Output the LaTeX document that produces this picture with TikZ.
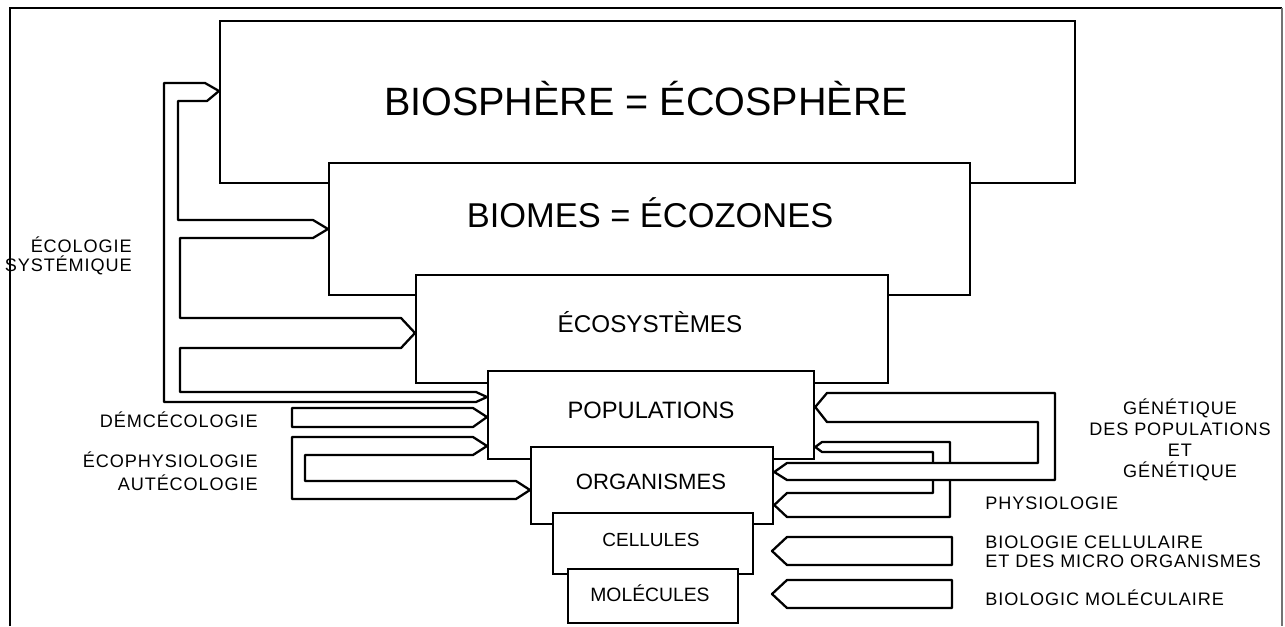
\documentclass[tikz,border=0pt]{standalone}
\usepackage{fontspec}
\setmainfont{Liberation Sans}
\newfontfamily\lblfont[LetterSpace=5]{Liberation Sans}

\begin{document}
\begin{tikzpicture}[x=0.02cm, y=-0.02cm,
    box/.style={draw, line width=1.3pt, fill=white, inner sep=0pt, anchor=north west},
    band/.style={draw, line width=1.3pt, fill=white, line join=round},
    lbl/.style={font=\lblfont\fontsize{10.3}{12}\selectfont, inner sep=0pt}]
    \useasboundingbox (0,0) rectangle (1285,626);
    \draw[line width=0.8pt] (10,626) -- (10,8) -- (1282,8);
    \draw[line width=0.6pt, black!55] (1282,8) -- (1282,626);

    \node[box, minimum width=17.10cm, minimum height=3.24cm] (bio) at (219,20) {};
    \node[box, minimum width=12.82cm, minimum height=2.64cm] (biome) at (328,162) {};
    \node[box, minimum width=9.44cm, minimum height=2.16cm] (eco) at (415,274) {};
    \node[box, minimum width=6.52cm, minimum height=1.76cm] (pop) at (487,370) {};
    \node[box, minimum width=4.84cm, minimum height=1.54cm] (org) at (530,446) {};
    \node[box, minimum width=4.00cm, minimum height=1.22cm] (cell) at (552,512) {};
    \node[box, minimum width=3.40cm, minimum height=1.08cm] (mol) at (567,568) {};

    \node[font=\fontsize{22.5}{27}\selectfont] (tbio) at (646,99) {BIOSPHÈRE = ÉCOSPHÈRE};
    \node[font=\fontsize{19.6}{24}\selectfont] (tbiome) at (650,213) {BIOMES = ÉCOZONES};
    \node[font=\fontsize{13.8}{16}\selectfont] (teco) at (650,322) {ÉCOSYSTÈMES};
    \node[font=\fontsize{13.5}{16}\selectfont] (tpop) at (651,410) {POPULATIONS};
    \node[font=\fontsize{12.6}{15}\selectfont] (torg) at (651,482) {ORGANISMES};
    \node[font=\fontsize{10.8}{13}\selectfont] (tcell) at (651,540) {CELLULES};
    \node[font=\fontsize{11}{13}\selectfont] (tmol) at (650,593) {MOLÉCULES};

    \draw[band] (164,83) -- (205,83) -- (bio.west |- 0,91) -- (207,101) -- (178,101)
      -- (178,220) -- (313,220) -- (biome.west |- 0,229) -- (313,238) -- (180,238)
      -- (180,318) -- (401,318) -- (eco.west |- 0,333) -- (401,348) -- (180,348)
      -- (180,392) -- (476,392) -- (pop.west |- 0,397) -- (476,402) -- (164,402) -- cycle;
    \draw[band] (292,408) -- (473,408) -- (pop.west |- 0,417) -- (473,427) -- (292,427) -- cycle;
    \draw[band] (292,437) -- (473,437) -- (pop.west |- 0,446) -- (473,455) -- (305,455)
      -- (305,481) -- (516,481) -- (org.west |- 0,490) -- (516,499) -- (292,499) -- cycle;

    \draw[band] (pop.east |- 0,447) -- (822,442) -- (950,442) -- (950,517) -- (787,517)
      -- (org.east |- 0,505) -- (787,493) -- (933,493) -- (933,452) -- (822,452) -- cycle;
    \draw[band] (pop.east |- 0,407) -- (827,393) -- (1055,393) -- (1055,480) -- (787,480)
      -- (org.east |- 0,472) -- (787,463) -- (1038,463) -- (1038,422) -- (827,422) -- cycle;
    \draw[band] (787,537) -- (952,537) -- (952,565) -- (787,565) -- (772,551) -- cycle;
    \draw[band] (787,580) -- (952,580) -- (952,608) -- (787,608) -- (772,594) -- cycle;

    \node[lbl, anchor=east, align=right] (lsys) at (132,256) {ÉCOLOGIE\\[-1.5pt]SYSTÉMIQUE};
    \node[lbl, anchor=east] (ldemo) at (258,420) {DÉMCÉCOLOGIE};
    \node[lbl, anchor=east, align=right] (lauto) at (258,471) {ÉCOPHYSIOLOGIE\\[1pt]AUTÉCOLOGIE};
    \node[lbl, align=center] (lgen) at (1180,440) {GÉNÉTIQUE\\DES POPULATIONS\\ET\\GÉNÉTIQUE};
    \node[lbl, anchor=west] (lphys) at (985,503) {PHYSIOLOGIE};
    \node[lbl, anchor=west, align=left] (lcell) at (985,552) {BIOLOGIE CELLULAIRE\\[-1.2pt]ET DES MICRO ORGANISMES};
    \node[lbl, anchor=west] (lmol) at (985,598) {BIOLOGIC MOLÉCULAIRE};
\end{tikzpicture}
\end{document}
